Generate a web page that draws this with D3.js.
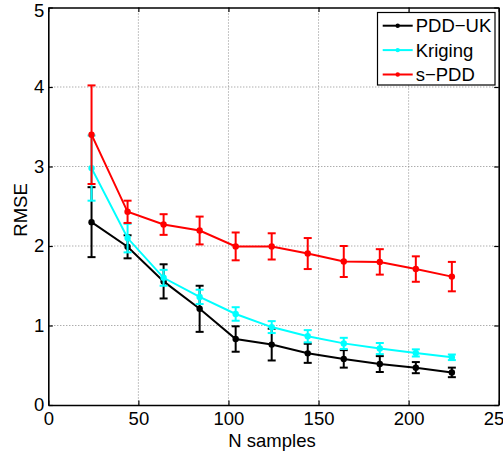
<!DOCTYPE html>
<html>
<head>
<meta charset="utf-8">
<script src="https://cdn.jsdelivr.net/npm/d3@7"></script>
<style>
  body { margin: 0; background: #fff; }
  text { font-family: "Liberation Sans", Arial, sans-serif; }
</style>
</head>
<body>
<svg id="chart" width="503" height="455"></svg>
<script>
// values
var nSamples = [24, 44, 64, 84, 104, 124, 144, 164, 184, 204, 224];

var pddUK    = [2.30, 1.99, 1.555, 1.21, 0.83, 0.76, 0.65, 0.58, 0.515, 0.47, 0.41];
var pddUKErr = [0.44, 0.145, 0.215, 0.29, 0.16, 0.20, 0.12, 0.11, 0.10, 0.07, 0.06];

var kriging    = [2.98, 2.10, 1.60, 1.36, 1.145, 0.98, 0.865, 0.775, 0.71, 0.655, 0.60];
var krigingErr = [0.41, 0.18, 0.10, 0.09, 0.085, 0.075, 0.077, 0.07, 0.07, 0.045, 0.035];

var sPDD    = [3.40, 2.43, 2.27, 2.195, 1.995, 1.995, 1.905, 1.805, 1.80, 1.71, 1.615];
var sPDDErr = [0.62, 0.14, 0.13, 0.175, 0.175, 0.165, 0.195, 0.195, 0.16, 0.16, 0.185];

var seriesNames  = ["PDD\u2212UK", "Kriging", "s\u2212PDD"];
var seriesColors = ["#000000", "#00ffff", "#ff0000"];

var xTicks = [0, 50, 100, 150, 200, 250];
var yTicks = [0, 1, 2, 3, 4, 5];

var svg = d3.select("#chart");

// plot box (window.top is read-only, so own names)
var plotLeft = 48.3, plotRight = 498.7, plotTop = 7.5, plotBottom = 405;

var xScale = d3.scaleLinear().domain([0, 250]).range([plotLeft, plotRight]);
var yScale = d3.scaleLinear().domain([0, 5]).range([plotBottom, plotTop]);

// grid (dotted)
var grid = svg.append("g").attr("class", "grid");
grid.selectAll(".gx").data(xTicks.slice(1, -1)).enter().append("line")
    .attr("x1", d => xScale(d)).attr("x2", d => xScale(d))
    .attr("y1", plotTop).attr("y2", plotBottom)
    .attr("stroke", "#8a8a8a").attr("stroke-width", 1).attr("stroke-dasharray", "1,2");
grid.selectAll(".gy").data(yTicks.slice(1, -1)).enter().append("line")
    .attr("x1", plotLeft).attr("x2", plotRight)
    .attr("y1", d => yScale(d)).attr("y2", d => yScale(d))
    .attr("stroke", "#8a8a8a").attr("stroke-width", 1).attr("stroke-dasharray", "1,2");

// axes, MATLAB style box with inward ticks
function styleAxis(g) {
    g.select(".domain").attr("stroke", "#000").attr("stroke-width", 1.6);
    g.selectAll(".tick line").attr("stroke", "#000").attr("stroke-width", 1.2);
    g.selectAll(".tick text").attr("fill", "#000")
        .style("font-size", "18.5px").style("font-family", '"Liberation Sans", Arial, sans-serif');
}

svg.append("g").attr("transform", "translate(0," + plotBottom + ")")
    .call(d3.axisBottom(xScale).tickValues(xTicks).tickFormat(d3.format("d"))
        .tickSizeInner(-4.5).tickSizeOuter(0).tickPadding(7))
    .call(styleAxis);
svg.append("g").attr("transform", "translate(0," + plotTop + ")")
    .call(d3.axisTop(xScale).tickValues(xTicks).tickSizeInner(-4.5).tickSizeOuter(0).tickFormat(""))
    .call(styleAxis);
var yAxisG = svg.append("g").attr("transform", "translate(" + plotLeft + ",0)")
    .call(d3.axisLeft(yScale).tickValues(yTicks).tickFormat(d3.format("d"))
        .tickSizeInner(-4.5).tickSizeOuter(0).tickPadding(4))
    .call(styleAxis);
// top label is nudged down so it stays inside the figure
yAxisG.selectAll(".tick text").filter(d => d === 5).attr("y", 3.5);
svg.append("g").attr("transform", "translate(" + plotRight + ",0)")
    .call(d3.axisRight(yScale).tickValues(yTicks).tickSizeInner(-4.5).tickSizeOuter(0).tickFormat(""))
    .call(styleAxis);

// axis labels
svg.append("text")
    .attr("x", 272).attr("y", 447)
    .attr("text-anchor", "middle")
    .style("font-size", "18.5px")
    .text("N samples");
svg.append("text")
    .attr("transform", "translate(27,210) rotate(-90)")
    .attr("text-anchor", "middle")
    .style("font-size", "18.5px")
    .text("RMSE");

// series with error bars
var allSeries = [
    { vals: pddUK, err: pddUKErr },
    { vals: kriging, err: krigingErr },
    { vals: sPDD, err: sPDDErr }
];

var line = d3.line()
    .x(d => xScale(d.x))
    .y(d => yScale(d.y));

var capHalf = 4;

allSeries.forEach(function (s, k) {
    var color = seriesColors[k];
    var pts = nSamples.map(function (n, i) {
        return { x: n, y: s.vals[i], e: s.err[i] };
    });
    var g = svg.append("g");

    g.append("path").datum(pts)
        .attr("d", line)
        .attr("fill", "none")
        .attr("stroke", color)
        .attr("stroke-width", 2);

    var bars = g.selectAll(".bar").data(pts).enter().append("g");
    bars.append("line")
        .attr("x1", d => xScale(d.x)).attr("x2", d => xScale(d.x))
        .attr("y1", d => yScale(d.y - d.e)).attr("y2", d => yScale(d.y + d.e))
        .attr("stroke", color).attr("stroke-width", 2);
    bars.append("line")
        .attr("x1", d => xScale(d.x) - capHalf).attr("x2", d => xScale(d.x) + capHalf)
        .attr("y1", d => yScale(d.y + d.e)).attr("y2", d => yScale(d.y + d.e))
        .attr("stroke", color).attr("stroke-width", 2);
    bars.append("line")
        .attr("x1", d => xScale(d.x) - capHalf).attr("x2", d => xScale(d.x) + capHalf)
        .attr("y1", d => yScale(d.y - d.e)).attr("y2", d => yScale(d.y - d.e))
        .attr("stroke", color).attr("stroke-width", 2);

    g.selectAll(".pt").data(pts).enter().append("circle")
        .attr("cx", d => xScale(d.x))
        .attr("cy", d => yScale(d.y))
        .attr("r", 3.2)
        .attr("fill", color);
});

// legend
var legend = svg.append("g");
legend.append("rect")
    .attr("x", 377.5).attr("y", 12.5)
    .attr("width", 117.5).attr("height", 72.5)
    .attr("fill", "#fff").attr("stroke", "#000").attr("stroke-width", 1.2);

seriesNames.forEach(function (name, i) {
    var cy = 25.7 + i * 24.4;
    legend.append("line")
        .attr("x1", 382.7).attr("x2", 412.7)
        .attr("y1", cy).attr("y2", cy)
        .attr("stroke", seriesColors[i]).attr("stroke-width", 2);
    legend.append("circle")
        .attr("cx", 397.7).attr("cy", cy).attr("r", 2.2)
        .attr("fill", seriesColors[i]);
    legend.append("text")
        .attr("x", 415.7).attr("y", cy + 6.5)
        .style("font-size", "18.5px")
        .text(name);
});
</script>
</body>
</html>
